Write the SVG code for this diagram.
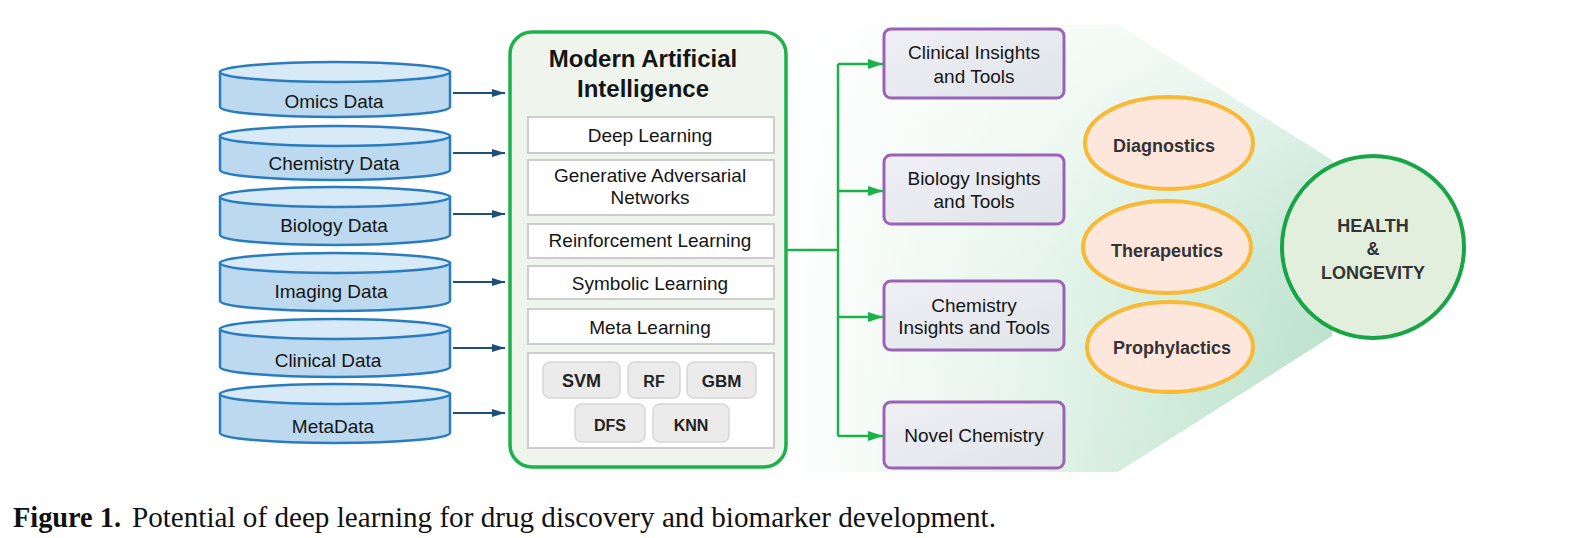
<svg xmlns="http://www.w3.org/2000/svg" width="1595" height="538" viewBox="0 0 1595 538">
  <defs>
    <style>
      .lbl { font-family: "Liberation Sans", Arial, sans-serif; font-size: 19px; fill: #151515; text-anchor: middle; }
      .ttl { font-family: "Liberation Sans", Arial, sans-serif; font-size: 24px; font-weight: bold; fill: #151515; text-anchor: middle; }
      .chip-t { font-family: "Liberation Sans", Arial, sans-serif; font-weight: bold; fill: #222; text-anchor: middle; }
      .bold-t { font-family: "Liberation Sans", Arial, sans-serif; font-size: 18px; font-weight: bold; fill: #333; text-anchor: middle; }
      .cyl-body { fill: #bcd9ef; stroke: #2a7cc0; stroke-width: 2.5; }
      .cyl-top { fill: #d8e9f7; stroke: #2a7cc0; stroke-width: 2.5; }
      .method { fill: #ffffff; stroke: #cdcdcd; stroke-width: 2; }
      .chip { fill: #ebebeb; stroke: #d6d6d6; stroke-width: 1.5; }
      .outbox { fill: url(#outFill); stroke: #9b63b8; stroke-width: 3; }
      .goal { fill: #fde6dc; stroke: #f8b935; stroke-width: 4; }
      .in-link { stroke: #1f4e79; stroke-width: 2; fill: none; marker-end: url(#arrBlue); }
      .out-link { stroke: #1db14b; stroke-width: 2.5; fill: none; }
      .out-arrow { marker-end: url(#arrGreen); }
      .cap { font-family: "Liberation Serif", "Times New Roman", serif; font-size: 29px; fill: #111; }
    </style>
    <marker id="arrBlue" markerUnits="userSpaceOnUse" markerWidth="14" markerHeight="10" refX="13" refY="5" orient="auto">
      <path d="M0,1 L13,5 L0,9 Z" fill="#1f4e79"/>
    </marker>
    <marker id="arrGreen" markerUnits="userSpaceOnUse" markerWidth="16" markerHeight="12" refX="15" refY="6" orient="auto">
      <path d="M0,1 L15,6 L0,11 Z" fill="#1db14b"/>
    </marker>
    <!-- funnel shading: fades in from the left, lighter towards the top -->
    <linearGradient id="funnelFill" gradientUnits="userSpaceOnUse" x1="780" y1="0" x2="1332" y2="0">
      <stop offset="0" stop-color="#ffffff"/>
      <stop offset="0.45" stop-color="#e4f4ea"/>
      <stop offset="1" stop-color="#b6e0c8"/>
    </linearGradient>
    <linearGradient id="funnelHaze" gradientUnits="userSpaceOnUse" x1="0" y1="25" x2="0" y2="472">
      <stop offset="0" stop-color="#ffffff" stop-opacity="0.75"/>
      <stop offset="0.55" stop-color="#ffffff" stop-opacity="0.15"/>
      <stop offset="1" stop-color="#ffffff" stop-opacity="0"/>
    </linearGradient>
    <linearGradient id="outFill" x1="0" y1="0" x2="1" y2="1">
      <stop offset="0" stop-color="#f0eff6"/>
      <stop offset="1" stop-color="#dfe5e8"/>
    </linearGradient>
  </defs>

  <!-- funnel backdrop behind the outcomes -->
  <g id="funnel">
    <polygon points="780,25 1118,25 1332,160 1332,336 1118,472 780,472" fill="url(#funnelFill)"/>
    <polygon points="780,25 1118,25 1332,160 1332,336 1118,472 780,472" fill="url(#funnelHaze)"/>
  </g>

  <!-- data sources -->
  <g id="omics">
    <path class="cyl-body" d="M220,72 L220,107 A115,10 0 0 0 450,107 L450,72 Z"/>
    <ellipse class="cyl-top" cx="335" cy="72" rx="115" ry="10"/>
    <text class="lbl" x="334" y="108">Omics Data</text>
  </g>
  <g id="chemistry-data">
    <path class="cyl-body" d="M220,136 L220,170 A115,10 0 0 0 450,170 L450,136 Z"/>
    <ellipse class="cyl-top" cx="335" cy="136" rx="115" ry="10"/>
    <text class="lbl" x="334" y="170">Chemistry Data</text>
  </g>
  <g id="biology-data">
    <path class="cyl-body" d="M220,197 L220,235 A115,10 0 0 0 450,235 L450,197 Z"/>
    <ellipse class="cyl-top" cx="335" cy="197" rx="115" ry="10"/>
    <text class="lbl" x="334" y="232">Biology Data</text>
  </g>
  <g id="imaging-data">
    <path class="cyl-body" d="M220,263 L220,301 A115,10 0 0 0 450,301 L450,263 Z"/>
    <ellipse class="cyl-top" cx="335" cy="263" rx="115" ry="10"/>
    <text class="lbl" x="331" y="298">Imaging Data</text>
  </g>
  <g id="clinical-data">
    <path class="cyl-body" d="M220,329 L220,367 A115,10 0 0 0 450,367 L450,329 Z"/>
    <ellipse class="cyl-top" cx="335" cy="329" rx="115" ry="10"/>
    <text class="lbl" x="328" y="367">Clinical Data</text>
  </g>
  <g id="metadata">
    <path class="cyl-body" d="M220,394 L220,433 A115,10 0 0 0 450,433 L450,394 Z"/>
    <ellipse class="cyl-top" cx="335" cy="394" rx="115" ry="10"/>
    <text class="lbl" x="333" y="433">MetaData</text>
  </g>

  <!-- AI methods block -->
  <g id="modern-ai">
    <rect x="510" y="32" width="276" height="435" rx="22" fill="#eff5ec" stroke="#1db14b" stroke-width="3.5"/>
    <text class="ttl" x="643" y="67">Modern Artificial</text>
    <text class="ttl" x="643" y="97">Intelligence</text>
  </g>
  <g id="deep-learning">
    <rect class="method" x="528" y="117" width="246" height="36"/>
    <text class="lbl" x="650" y="142">Deep Learning</text>
  </g>
  <g id="gan">
    <rect class="method" x="528" y="160" width="246" height="55"/>
    <text class="lbl" x="650" y="182">Generative Adversarial</text>
    <text class="lbl" x="650" y="204">Networks</text>
  </g>
  <g id="reinforcement">
    <rect class="method" x="528" y="224" width="246" height="34"/>
    <text class="lbl" x="650" y="247">Reinforcement Learning</text>
  </g>
  <g id="symbolic">
    <rect class="method" x="528" y="266" width="246" height="33"/>
    <text class="lbl" x="650" y="290">Symbolic Learning</text>
  </g>
  <g id="meta-learning">
    <rect class="method" x="528" y="309" width="246" height="35"/>
    <text class="lbl" x="650" y="334">Meta Learning</text>
  </g>
  <g id="classic-ml">
    <rect class="method" x="528" y="353" width="246" height="95"/>
    <rect class="chip" x="543" y="362" width="77" height="36" rx="7"/>
    <text class="chip-t" x="581.5" y="387" font-size="18">SVM</text>
    <rect class="chip" x="628" y="362" width="52" height="36" rx="7"/>
    <text class="chip-t" x="654" y="387" font-size="16">RF</text>
    <rect class="chip" x="687" y="362" width="69" height="36" rx="7"/>
    <text class="chip-t" x="721.5" y="387" font-size="17">GBM</text>
    <rect class="chip" x="575" y="404" width="70" height="38" rx="7"/>
    <text class="chip-t" x="610" y="431" font-size="16">DFS</text>
    <rect class="chip" x="653" y="404" width="76" height="38" rx="7"/>
    <text class="chip-t" x="691" y="431" font-size="16">KNN</text>
  </g>

  <!-- outputs -->
  <g id="clinical-insights">
    <rect class="outbox" x="884" y="29" width="180" height="69" rx="7"/>
    <text class="lbl" x="974" y="59">Clinical Insights</text>
    <text class="lbl" x="974" y="83">and Tools</text>
  </g>
  <g id="biology-insights">
    <rect class="outbox" x="884" y="155" width="180" height="69" rx="7"/>
    <text class="lbl" x="974" y="185">Biology Insights</text>
    <text class="lbl" x="974" y="208">and Tools</text>
  </g>
  <g id="chemistry-insights">
    <rect class="outbox" x="884" y="281" width="180" height="69" rx="7"/>
    <text class="lbl" x="974" y="312">Chemistry</text>
    <text class="lbl" x="974" y="334">Insights and Tools</text>
  </g>
  <g id="novel-chemistry">
    <rect class="outbox" x="884" y="402" width="180" height="66" rx="7"/>
    <text class="lbl" x="974" y="442">Novel Chemistry</text>
  </g>

  <!-- application areas -->
  <g id="diagnostics">
    <ellipse class="goal" cx="1169" cy="143" rx="84" ry="46"/>
    <text class="bold-t" x="1164" y="152">Diagnostics</text>
  </g>
  <g id="therapeutics">
    <ellipse class="goal" cx="1167" cy="247" rx="84" ry="46"/>
    <text class="bold-t" x="1167" y="257">Therapeutics</text>
  </g>
  <g id="prophylactics">
    <ellipse class="goal" cx="1170" cy="347" rx="83" ry="45"/>
    <text class="bold-t" x="1172" y="354">Prophylactics</text>
  </g>
  <g id="health-longevity">
    <circle cx="1373" cy="247" r="91" fill="#e2efdc" stroke="#17a547" stroke-width="4"/>
    <text class="bold-t" x="1373" y="232">HEALTH</text>
    <text class="bold-t" x="1373" y="255">&amp;</text>
    <text class="bold-t" x="1373" y="279">LONGEVITY</text>
  </g>

  <!-- connectors -->
  <g id="connectors">
    <line class="in-link" x1="453" y1="93" x2="505" y2="93"/>
    <line class="in-link" x1="453" y1="153" x2="505" y2="153"/>
    <line class="in-link" x1="453" y1="214" x2="505" y2="214"/>
    <line class="in-link" x1="453" y1="282" x2="505" y2="282"/>
    <line class="in-link" x1="453" y1="348" x2="505" y2="348"/>
    <line class="in-link" x1="453" y1="413" x2="505" y2="413"/>
    <path class="out-link" d="M787,250 L838,250 M838,64 L838,436"/>
    <line class="out-link out-arrow" x1="838" y1="64" x2="883" y2="64"/>
    <line class="out-link out-arrow" x1="838" y1="191" x2="883" y2="191"/>
    <line class="out-link out-arrow" x1="838" y1="317" x2="883" y2="317"/>
    <line class="out-link out-arrow" x1="838" y1="436" x2="883" y2="436"/>
  </g>

  <!-- caption -->
  <text class="cap" x="13" y="527" font-weight="bold" textLength="108" lengthAdjust="spacingAndGlyphs">Figure 1.</text>
  <text class="cap" x="132" y="527" textLength="864" lengthAdjust="spacingAndGlyphs">Potential of deep learning for drug discovery and biomarker development.</text>
</svg>
